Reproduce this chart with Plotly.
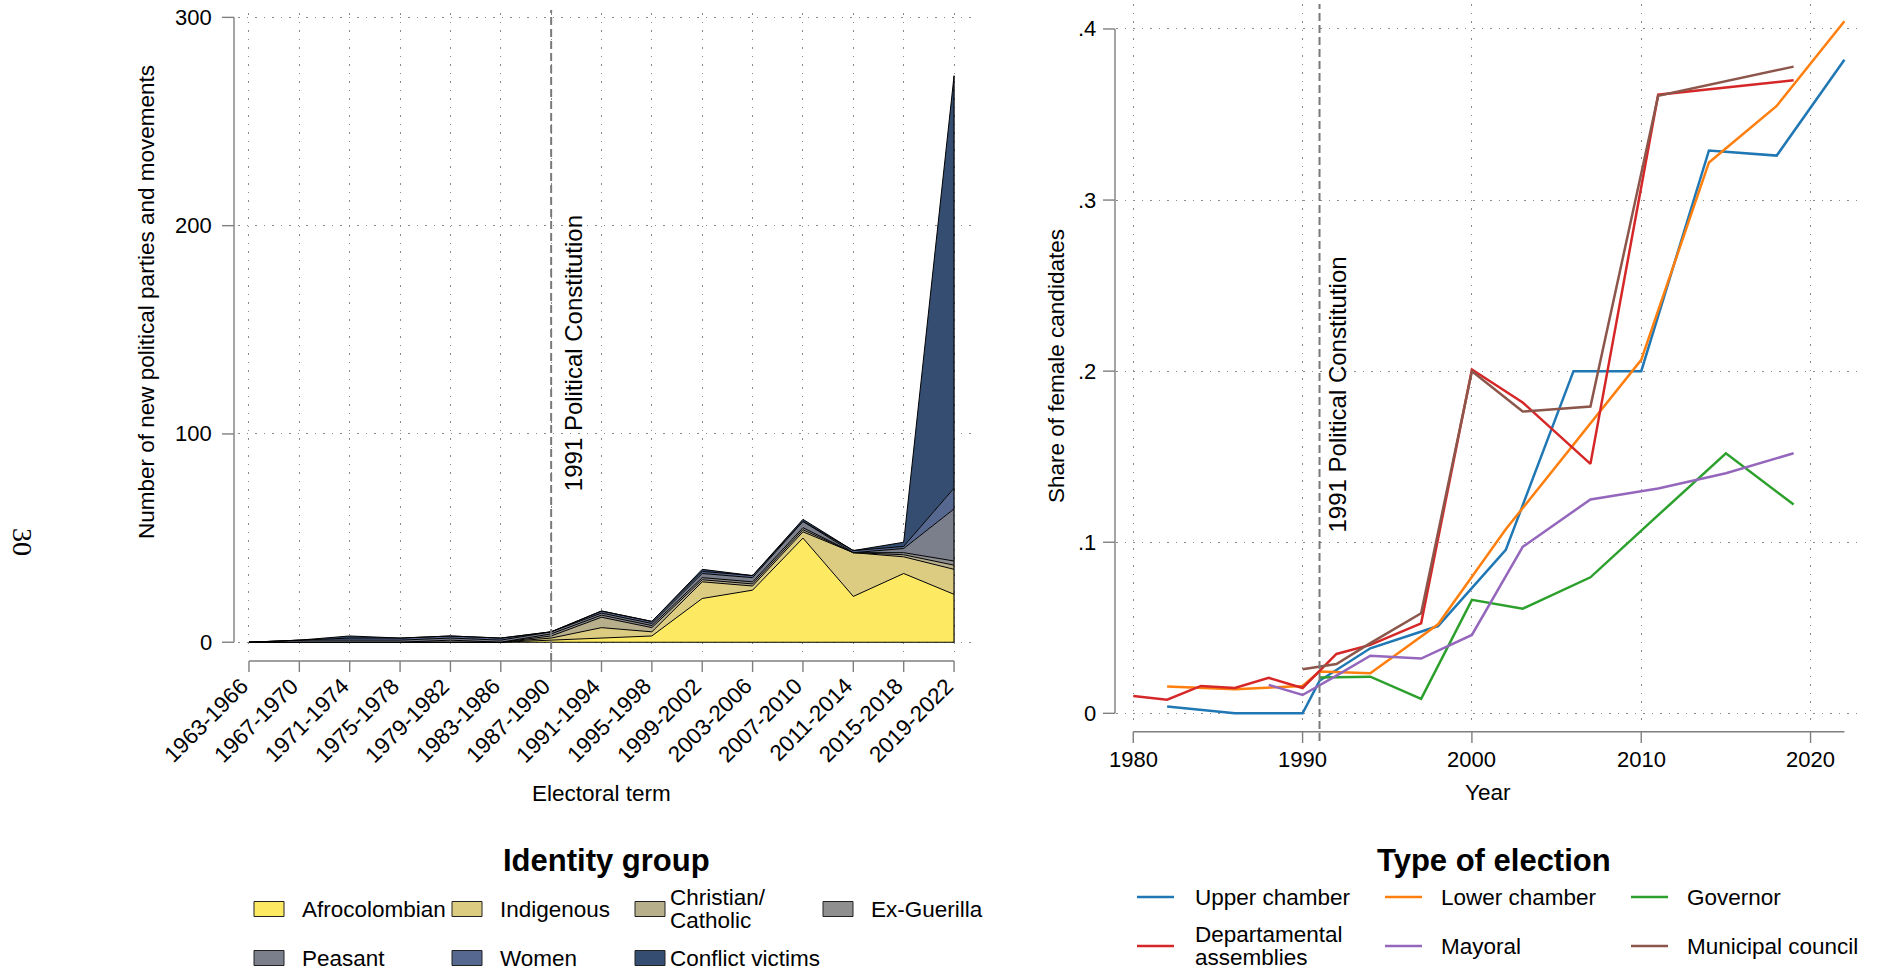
import plotly.graph_objects as go

W, H = 1881, 973
def px(x):
    return x / W
def py(y):
    return 1 - y / H

FONT = "Liberation Sans, Arial, Helvetica, sans-serif"

# ---------------- Left panel data ----------------
terms = ["1963-1966", "1967-1970", "1971-1974", "1975-1978", "1979-1982",
         "1983-1986", "1987-1990", "1991-1994", "1995-1998", "1999-2002",
         "2003-2006", "2007-2010", "2011-2014", "2015-2018", "2019-2022"]
group_names = ["Afrocolombian", "Indigenous", "Christian/Catholic", "Ex-Guerilla",
               "Peasant", "Women", "Conflict victims"]
group_labels = ["Afrocolombian", "Indigenous", "Christian/<br>Catholic", "Ex-Guerilla",
                "Peasant", "Women", "Conflict victims"]
group_colors = ["#FDEA62", "#DCCC82", "#B7AF8B", "#8F8F8F", "#7B7F8C", "#56688F", "#344D71"]

afrocolombian = [0, 0, 0, 0, 0, 0, 1, 2, 3, 21, 25, 50, 22, 33, 23]
indigenous    = [0, 0, 0, 0, 0, 0, 1, 5, 2, 8, 2, 3, 21, 8, 12]
christian     = [0, 0, 0, 0, 0, 0, 1, 5, 2, 1, 1, 1, 0, 1, 2]
ex_guerilla   = [0, 0, 0, 0, 1, 0, 1, 1, 1, 1, 1, 1, 0, 1, 2]
peasant       = [0, 1, 1, 1, 1, 1, 1, 1, 1, 2, 2, 3, 0, 2, 25]
women         = [0, 0, 1, 1, 1, 1, 0, 1, 1, 1, 1, 0, 1, 1, 10]
conflict_vict = [0, 0, 1, 0, 0, 0, 0, 0, 0, 1, 0, 1, 0, 2, 198]
group_values = [afrocolombian, indigenous, christian, ex_guerilla, peasant, women, conflict_vict]

left_yticks = [0, 100, 200, 300]
constitution_term = "1987-1990"

# ---------------- Right panel data ----------------
election_names = ["Upper chamber", "Lower chamber", "Governor",
                  "Departamental assemblies", "Mayoral", "Municipal council"]
election_labels = ["Upper chamber", "Lower chamber", "Governor",
                   "Departamental<br>assemblies", "Mayoral", "Municipal council"]
election_colors = ["#1f77b4", "#ff7f0e", "#2ca02c", "#d62728", "#9467bd", "#8c564b"]

upper_years = [1982, 1986, 1990, 1991, 1994, 1998, 2002, 2006, 2010, 2014, 2018, 2022]
upper_share = [0.004, 0.0, 0.0, 0.019, 0.038, 0.051, 0.0955, 0.200, 0.200, 0.329, 0.326, 0.382]
lower_years = [1982, 1986, 1990, 1991, 1994, 1998, 2002, 2006, 2010, 2014, 2018, 2022]
lower_share = [0.0156, 0.014, 0.016, 0.0244, 0.0234, 0.052, 0.1076, 0.157, 0.2066, 0.322, 0.355, 0.4045]
gov_years = [1991, 1994, 1997, 2000, 2003, 2007, 2011, 2015, 2019]
gov_share = [0.021, 0.0214, 0.0084, 0.0663, 0.0612, 0.0795, 0.1158, 0.152, 0.122]
dept_years = [1980, 1982, 1984, 1986, 1988, 1990, 1992, 1994, 1997, 2000, 2003, 2007, 2011, 2019]
dept_share = [0.0101, 0.008, 0.016, 0.0148, 0.0207, 0.0148, 0.0347, 0.040, 0.0526, 0.201, 0.1817, 0.1458, 0.3616, 0.370]
mayor_years = [1988, 1990, 1992, 1994, 1997, 2000, 2003, 2007, 2011, 2015, 2019]
mayor_share = [0.0166, 0.0107, 0.022, 0.0337, 0.032, 0.0458, 0.0973, 0.125, 0.1314, 0.1403, 0.152]
council_years = [1990, 1992, 1994, 1997, 2000, 2003, 2007, 2011, 2019]
council_share = [0.0257, 0.0288, 0.041, 0.0585, 0.200, 0.1764, 0.1793, 0.361, 0.378]
election_years = [upper_years, lower_years, gov_years, dept_years, mayor_years, council_years]
election_shares = [upper_share, lower_share, gov_share, dept_share, mayor_share, council_share]

right_xticks = [1980, 1990, 2000, 2010, 2020]
right_yticks = [0, 0.1, 0.2, 0.3, 0.4]
right_ytick_labels = ["0", ".1", ".2", ".3", ".4"]
constitution_year = 1991

# ---------------- Figure ----------------
fig = go.Figure()
term_idx = list(range(len(terms)))

for name, vals, col in zip(group_names, group_values, group_colors):
    fig.add_trace(go.Scatter(
        x=term_idx, y=vals, name=name, stackgroup="one", mode="lines",
        line=dict(color="black", width=1), fillcolor=col,
        xaxis="x", yaxis="y", showlegend=False, hoverinfo="x+y+name"))

# outline edges of the stacked area (baseline and right edge)
total_last = sum(v[-1] for v in group_values)
fig.add_trace(go.Scatter(x=[term_idx[0], term_idx[-1]], y=[0, 0], mode="lines",
                         line=dict(color="black", width=1.2), xaxis="x", yaxis="y",
                         showlegend=False, hoverinfo="skip"))
fig.add_trace(go.Scatter(x=[term_idx[-1], term_idx[-1]], y=[0, total_last], mode="lines",
                         line=dict(color="black", width=1.2), xaxis="x", yaxis="y",
                         showlegend=False, hoverinfo="skip"))

for name, yrs, vals, col in zip(election_names, election_years, election_shares, election_colors):
    fig.add_trace(go.Scatter(
        x=yrs, y=vals, name=name, mode="lines",
        line=dict(color=col, width=2.5), xaxis="x2", yaxis="y2", showlegend=False))

GRID = dict(showgrid=True, gridcolor="#8a8a8a", griddash="1.5px,7px", gridwidth=1.3,
            showticklabels=False, ticks="", zeroline=False, showline=False, fixedrange=True)

fig.update_layout(
    width=W, height=H, margin=dict(l=0, r=0, t=0, b=0),
    paper_bgcolor="white", plot_bgcolor="white",
    font=dict(family=FONT, size=22, color="black"),
    xaxis=dict(domain=[px(238), px(975)], range=[-0.218, 14.416], tickvals=term_idx,
               anchor="y", **GRID),
    yaxis=dict(domain=[py(652), py(13)], range=[-4.69, 302.1], tickvals=left_yticks,
               anchor="x", **GRID),
    xaxis2=dict(domain=[px(1116), px(1860)], range=[1978.98, 2022.92], tickvals=right_xticks,
                anchor="y2", **GRID),
    yaxis2=dict(domain=[py(727), py(4)], range=[-0.008, 0.4146], tickvals=right_yticks,
                anchor="x2", **GRID),
)

AX = dict(color="#7f7f7f", width=1.4)
shapes = []
ann = []

# ----- left axes -----
shapes.append(dict(type="line", xref="paper", yref="y", x0=px(234), x1=px(234),
                   y0=left_yticks[0], y1=left_yticks[-1], line=AX))
for t in left_yticks:
    shapes.append(dict(type="line", xref="paper", yref="y", x0=px(222), x1=px(234),
                       y0=t, y1=t, line=AX))
    ann.append(dict(xref="paper", yref="y", x=px(214), y=t, text=str(t), showarrow=False,
                    xanchor="right", yanchor="middle", font=dict(size=22)))
shapes.append(dict(type="line", xref="x", yref="paper", x0=term_idx[0], x1=term_idx[-1],
                   y0=py(661), y1=py(661), line=AX))
for i, lab in zip(term_idx, terms):
    shapes.append(dict(type="line", xref="x", yref="paper", x0=i, x1=i,
                       y0=py(661), y1=py(672), line=AX))
    ann.append(dict(xref="x", yref="paper", x=i, y=py(673), text=lab, showarrow=False,
                    textangle=-45, xanchor="right", yanchor="top", xshift=4,
                    font=dict(size=22.5), borderpad=0, borderwidth=0))

# ----- right axes -----
shapes.append(dict(type="line", xref="paper", yref="y2", x0=px(1115), x1=px(1115),
                   y0=right_yticks[0], y1=right_yticks[-1], line=AX))
for t, lab in zip(right_yticks, right_ytick_labels):
    shapes.append(dict(type="line", xref="paper", yref="y2", x0=px(1103), x1=px(1115),
                       y0=t, y1=t, line=AX))
    ann.append(dict(xref="paper", yref="y2", x=px(1098), y=t, text=lab, showarrow=False,
                    xanchor="right", yanchor="middle", font=dict(size=22)))
shapes.append(dict(type="line", xref="x2", yref="paper", x0=right_xticks[0],
                   x1=max(max(y) for y in election_years),
                   y0=py(731.7), y1=py(731.7), line=AX))
for t in right_xticks:
    shapes.append(dict(type="line", xref="x2", yref="paper", x0=t, x1=t,
                       y0=py(731.7), y1=py(743), line=AX))
    ann.append(dict(xref="x2", yref="paper", x=t, y=py(745), text=str(t), showarrow=False,
                    xanchor="center", yanchor="top", font=dict(size=22)))

# ----- constitution reference lines -----
DASH = dict(color="#7a7a7a", width=2, dash="8px,4px")
ci = terms.index(constitution_term)
shapes.append(dict(type="line", xref="x", yref="paper", x0=ci, x1=ci,
                   y0=py(661), y1=py(10), line=DASH))
shapes.append(dict(type="line", xref="x2", yref="paper", x0=constitution_year, x1=constitution_year,
                   y0=py(741), y1=py(4), line=DASH))
ann.append(dict(xref="x", yref="paper", x=ci, xshift=23, y=py(353),
                text="1991 Political Constitution", textangle=-90, showarrow=False,
                xanchor="center", yanchor="middle", font=dict(size=24)))
ann.append(dict(xref="x2", yref="paper", x=constitution_year, xshift=17, y=py(395),
                text="1991 Political Constitution", textangle=-90, showarrow=False,
                xanchor="center", yanchor="middle", font=dict(size=24)))

# ----- axis titles -----
ann.append(dict(xref="paper", yref="paper", x=px(146), y=py(302),
                text="Number of new political parties and movements", textangle=-90,
                showarrow=False, xanchor="center", yanchor="middle", font=dict(size=22.5)))
ann.append(dict(xref="paper", yref="paper", x=px(601), y=py(793), text="Electoral term",
                showarrow=False, xanchor="center", yanchor="middle", font=dict(size=22.5)))
ann.append(dict(xref="paper", yref="paper", x=px(1056), y=py(366),
                text="Share of female candidates", textangle=-90,
                showarrow=False, xanchor="center", yanchor="middle", font=dict(size=22.5)))
ann.append(dict(xref="paper", yref="paper", x=px(1488), y=py(792), text="Year",
                showarrow=False, xanchor="center", yanchor="middle", font=dict(size=22.5)))

# ----- page number -----
ann.append(dict(xref="paper", yref="paper", x=px(23), y=py(542), text="30", textangle=90,
                showarrow=False, xanchor="center", yanchor="middle",
                font=dict(size=28, family="Liberation Serif, DejaVu Serif, serif")))


def legend_text(x, yc, label):
    parts = label.split("<br>")
    n = len(parts)
    gap = 23
    for j, p in enumerate(parts):
        yy = yc + (j - (n - 1) / 2) * gap
        ann.append(dict(xref="paper", yref="paper", x=px(x), y=py(yy), text=p,
                        showarrow=False, xanchor="left", yanchor="middle",
                        font=dict(size=22.5)))


# ----- left legend -----
ann.append(dict(xref="paper", yref="paper", x=px(606), y=py(860), text="<b>Identity group</b>",
                showarrow=False, xanchor="center", yanchor="middle", font=dict(size=31)))
left_cols = [254, 452, 635, 823]
left_text = [300, 498, 668, 869]
left_rows = [909, 958]
for k, (lab, col) in enumerate(zip(group_labels, group_colors)):
    r, c = divmod(k, 4)
    x0 = left_cols[c]
    yc = left_rows[r]
    shapes.append(dict(type="rect", xref="paper", yref="paper", x0=px(x0), x1=px(x0 + 30),
                       y0=py(yc + 7.5), y1=py(yc - 7.5), fillcolor=col,
                       line=dict(color="#222222", width=1)))
    legend_text(left_text[c], yc, lab)

# ----- right legend -----
ann.append(dict(xref="paper", yref="paper", x=px(1494), y=py(860), text="<b>Type of election</b>",
                showarrow=False, xanchor="center", yanchor="middle", font=dict(size=31)))
right_cols = [1137, 1385, 1631]
right_text = [1193, 1439, 1685]
right_rows = [897, 946]
for k, (lab, col) in enumerate(zip(election_labels, election_colors)):
    r, c = divmod(k, 3)
    x0 = right_cols[c]
    yc = right_rows[r]
    shapes.append(dict(type="line", xref="paper", yref="paper", x0=px(x0), x1=px(x0 + 37),
                       y0=py(yc), y1=py(yc), line=dict(color=col, width=2.6)))
    legend_text(right_text[c], yc, lab)

fig.update_layout(shapes=shapes, annotations=ann)

fig.write_html("out.html", include_plotlyjs=True,
               config={"displayModeBar": False},
               post_script="document.body.style.margin='0';document.body.style.overflow='hidden';")
